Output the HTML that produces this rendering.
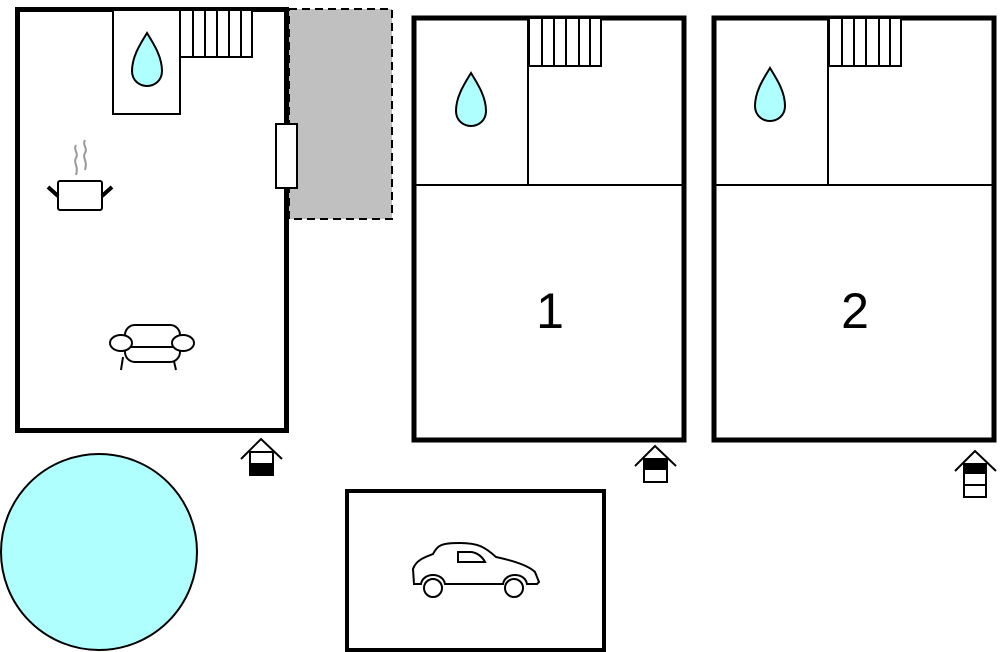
<!DOCTYPE html>
<html><head><style>html,body{margin:0;padding:0;background:#fff;}svg{display:block;}</style></head>
<body>
<svg width="1005" height="652" viewBox="0 0 1005 652" xmlns="http://www.w3.org/2000/svg">
<!-- terrace -->
<rect x="289" y="9" width="103" height="210" fill="#c0c0c0" stroke="#000" stroke-width="2" stroke-dasharray="8,5"/>
<!-- left building -->
<rect x="17.5" y="9.5" width="269" height="421" fill="#fff" stroke="#000" stroke-width="5"/>
<rect x="113" y="10" width="67" height="104" fill="#fff" stroke="#000" stroke-width="2"/>
<rect x="180" y="10" width="72" height="47" fill="#fff" stroke="#000" stroke-width="2"/>
<g stroke="#000" stroke-width="2"><line x1="193" y1="10" x2="193" y2="57"/><line x1="205" y1="10" x2="205" y2="57"/><line x1="217" y1="10" x2="217" y2="57"/><line x1="229" y1="10" x2="229" y2="57"/><line x1="241" y1="10" x2="241" y2="57"/></g>
<path d="M147 33 C141 43 132 56 132 71 C132 81 140 86 147 86 C154 86 162 81 162 71 C162 56 153 43 147 33 Z" fill="#b0ffff" stroke="#000" stroke-width="2"/>
<rect x="276" y="124" width="21" height="64" fill="#fff" stroke="#000" stroke-width="2"/>
<!-- pot -->
<g fill="none" stroke="#999" stroke-width="2"><path d="M76 145 c-3 5 3 8 0 13 c-3 5 3 8 0 17"/><path d="M85 140 c-3 5 3 8 0 13 c-3 5 3 8 0 17"/></g>
<rect x="58" y="181" width="44" height="29" rx="2" fill="#fff" stroke="#000" stroke-width="2"/>
<line x1="48" y1="187" x2="58" y2="196" stroke="#000" stroke-width="4"/>
<line x1="112" y1="187" x2="102" y2="196" stroke="#000" stroke-width="4"/>
<!-- sofa -->
<g fill="#fff" stroke="#000" stroke-width="2">
<path d="M123 357 l-2 13 M173 357 l3 13"/>
<rect x="125" y="325" width="55" height="37" rx="10"/>
<ellipse cx="121" cy="343" rx="11" ry="8"/>
<ellipse cx="183" cy="343" rx="11" ry="8"/>
<line x1="131" y1="347" x2="173" y2="347"/>
</g>
<!-- entry icon 1 -->
<polyline points="241,459 261,439 282,459" fill="none" stroke="#000" stroke-width="2"/>
<rect x="250" y="452" width="23" height="23" fill="#fff" stroke="#000" stroke-width="2"/>
<rect x="250" y="463" width="23" height="12" fill="#000"/>
<!-- building 1 -->
<rect x="414" y="18" width="270" height="422" fill="#fff" stroke="#000" stroke-width="5"/>
<line x1="414" y1="185" x2="684" y2="185" stroke="#000" stroke-width="2"/>
<line x1="528" y1="18" x2="528" y2="185" stroke="#000" stroke-width="2"/>
<rect x="529" y="18" width="72" height="48" fill="#fff" stroke="#000" stroke-width="2"/>
<g stroke="#000" stroke-width="2"><line x1="542" y1="18" x2="542" y2="66"/><line x1="554" y1="18" x2="554" y2="66"/><line x1="566" y1="18" x2="566" y2="66"/><line x1="579" y1="18" x2="579" y2="66"/><line x1="590" y1="18" x2="590" y2="66"/></g>
<path d="M471 73 C465 83 456 96 456 111 C456 121 464 126 471 126 C478 126 486 121 486 111 C486 96 477 83 471 73 Z" fill="#b0ffff" stroke="#000" stroke-width="2"/>
<text x="550" y="328" font-family="Liberation Sans, sans-serif" font-size="50" text-anchor="middle">1</text>
<polyline points="635,466 655,446 676,466" fill="none" stroke="#000" stroke-width="2"/>
<rect x="644" y="459" width="23" height="23" fill="#fff" stroke="#000" stroke-width="2"/>
<rect x="644" y="459" width="23" height="11" fill="#000"/>
<!-- building 2 -->
<rect x="714" y="18" width="280" height="422" fill="#fff" stroke="#000" stroke-width="5"/>
<line x1="714" y1="185" x2="994" y2="185" stroke="#000" stroke-width="2"/>
<line x1="828" y1="18" x2="828" y2="185" stroke="#000" stroke-width="2"/>
<rect x="829" y="18" width="72" height="48" fill="#fff" stroke="#000" stroke-width="2"/>
<g stroke="#000" stroke-width="2"><line x1="842" y1="18" x2="842" y2="66"/><line x1="854" y1="18" x2="854" y2="66"/><line x1="866" y1="18" x2="866" y2="66"/><line x1="879" y1="18" x2="879" y2="66"/><line x1="890" y1="18" x2="890" y2="66"/></g>
<path d="M770 68 C764 78 755 91 755 106 C755 116 763 121 770 121 C777 121 785 116 785 106 C785 91 776 78 770 68 Z" fill="#b0ffff" stroke="#000" stroke-width="2"/>
<text x="855" y="328" font-family="Liberation Sans, sans-serif" font-size="50" text-anchor="middle">2</text>
<polyline points="955,471 975,451 996,471" fill="none" stroke="#000" stroke-width="2"/>
<rect x="964" y="464" width="22" height="33" fill="#fff" stroke="#000" stroke-width="2"/>
<rect x="964" y="464" width="22" height="10" fill="#000"/>
<line x1="964" y1="485" x2="986" y2="485" stroke="#000" stroke-width="2"/>
<!-- pool -->
<circle cx="99" cy="552" r="98" fill="#b0ffff" stroke="#000" stroke-width="2"/>
<!-- garage -->
<rect x="347" y="491" width="257" height="159" fill="#fff" stroke="#000" stroke-width="4"/>
<g fill="#fff" stroke="#000" stroke-width="2">
<path d="M414 584 L413 569 C416 560 425 557 433 554 C438 545 441 543 460 543 C478 543 485 547 496 557 C510 560 528 565 535 572 L539 582 L537 584 L527 584 C525 572 505 572 503 584 L445 584 C443 572 423 572 421 584 Z"/>
<circle cx="433" cy="588" r="9"/>
<circle cx="514" cy="588" r="9"/>
<path d="M458 552 L458 562 L485 562 C482 556 476 552 470 552 Z"/>
</g>
</svg>
</body></html>
